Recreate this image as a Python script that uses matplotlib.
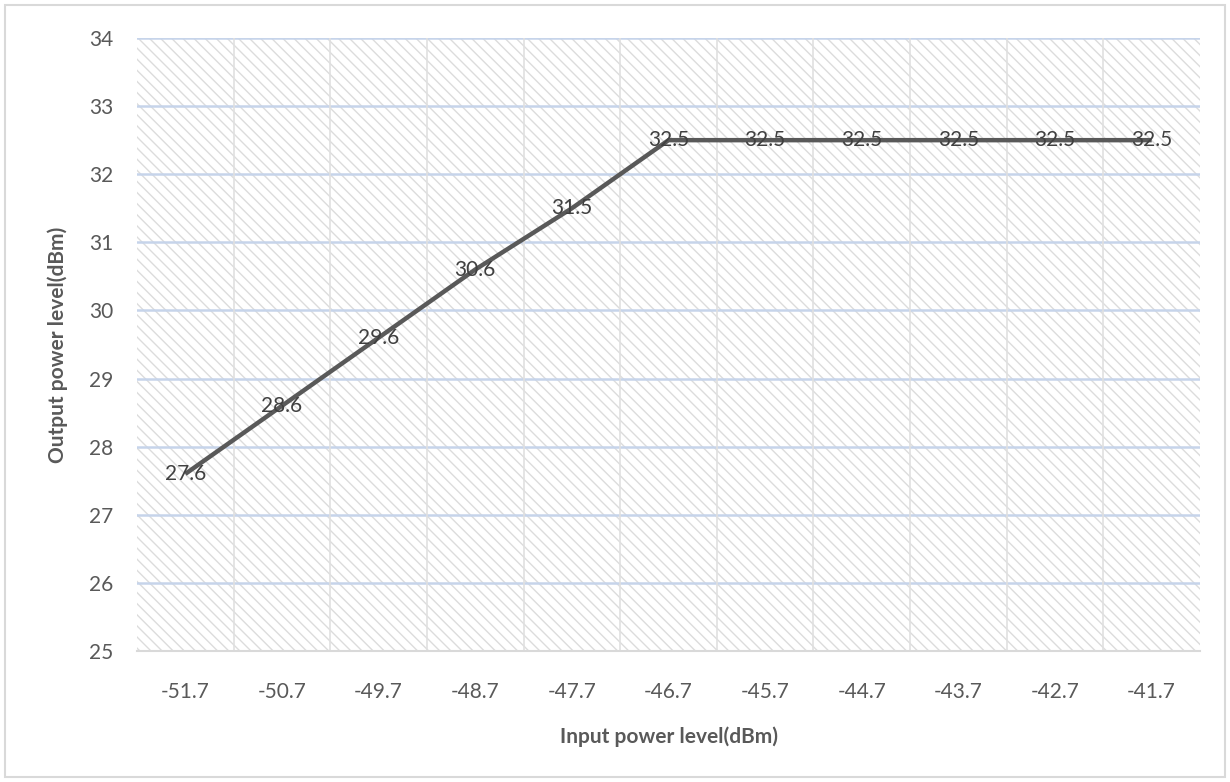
import numpy as np
import matplotlib
matplotlib.use("Agg")
import matplotlib.pyplot as plt
from matplotlib.patches import Rectangle

# input level (dBm) on the category axis, measured output level (dBm)
input_level = ["-51.7", "-50.7", "-49.7", "-48.7", "-47.7", "-46.7",
               "-45.7", "-44.7", "-43.7", "-42.7", "-41.7"]
output_level = [27.6, 28.6, 29.6, 30.6, 31.5, 32.5, 32.5, 32.5, 32.5, 32.5, 32.5]
y_ticks = [25, 26, 27, 28, 29, 30, 31, 32, 33, 34]

txt = "#595959"
plt.rcParams['font.family'] = ['Lato', 'DejaVu Sans']
plt.rcParams['hatch.linewidth'] = 1.0

fig = plt.figure(figsize=(12.3, 7.82), dpi=100)
ax = fig.add_axes([137/1230, 131/782, 1063/1230, 613/782])

# hatched plot area
ax.patch.set_visible(False)
ax.add_patch(Rectangle((0, 0), 1, 1, transform=ax.transAxes, facecolor="white",
                       edgecolor="#dcdcdc", lw=0, hatch="\\\\\\", zorder=0))

x = np.arange(len(input_level))
ax.set_xlim(-0.5, len(input_level) - 0.5)
ax.set_ylim(y_ticks[0], y_ticks[-1])

# grid: blue horizontal at ticks, gray vertical between categories
for yv in y_ticks[1:]:
    ax.axhline(yv, color="#c6d4ea", lw=1.8, zorder=1)
for b in np.arange(-0.5, len(input_level), 1.0)[1:-1]:
    ax.axvline(b, color="#e0e0e0", lw=1.2, zorder=1)

ax.plot(x, output_level, color="#595959", lw=3.2, solid_capstyle="butt", zorder=3)
for xi, v in zip(x, output_level):
    ax.text(xi, v, f"{v:.1f}", ha="center", va="center", fontsize=15,
            color="#404040", zorder=4)

ax.set_xticks(x)
ax.set_xticklabels(input_level)
ax.set_yticks(y_ticks)
ax.tick_params(length=0, labelsize=15, colors=txt)
ax.tick_params(axis="x", pad=22)
ax.tick_params(axis="y", pad=17)

for s in ["left", "right", "top"]:
    ax.spines[s].set_visible(False)
ax.spines["bottom"].set_color("#d9d9d9")
ax.spines["bottom"].set_linewidth(1.5)

ax.set_xlabel("Input power level(dBm)", fontsize=15, fontweight="bold", color=txt, labelpad=18)
ax.set_ylabel("Output power level(dBm)", fontsize=15, fontweight="bold", color=txt, labelpad=15)

# outer border of the chart
fig.patches.append(Rectangle((5/1230, 5/782), 1220/1230, 772/782, transform=fig.transFigure,
                             fill=False, edgecolor="#d9d9d9", lw=1.5))

fig.savefig("out.png", dpi=100)
